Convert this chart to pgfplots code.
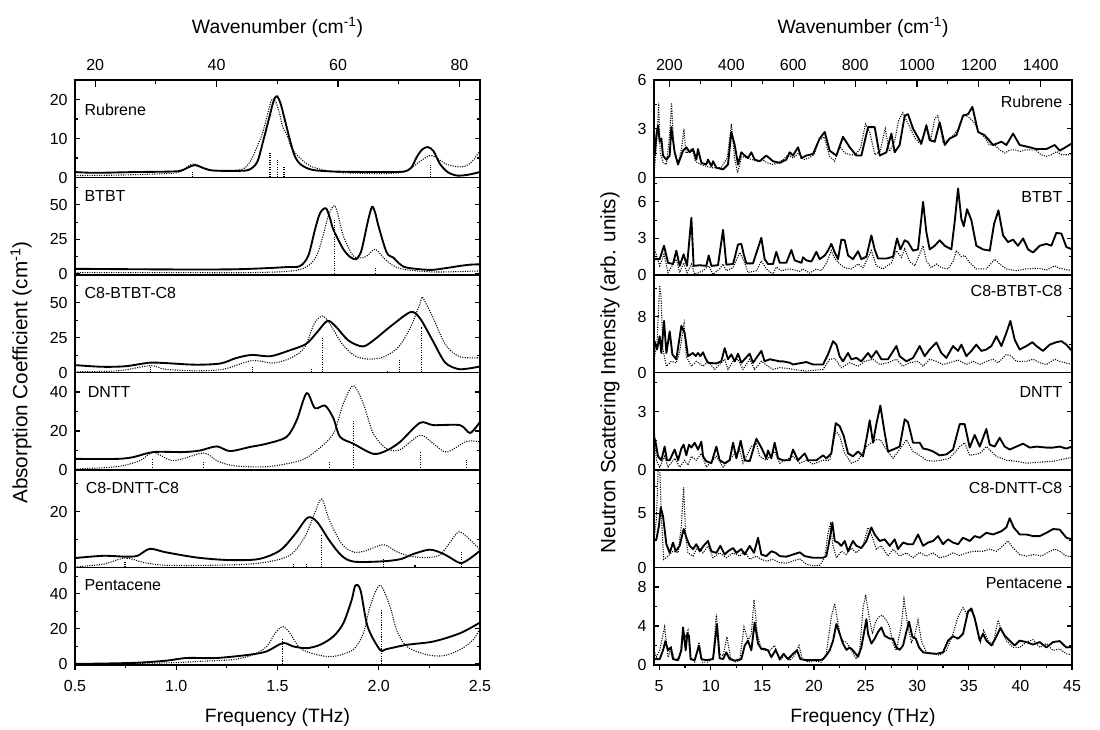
\documentclass[border=0pt]{standalone}
\usepackage{fontspec}
\setmainfont{Liberation Sans}
\usepackage{pgfplots}
\pgfplotsset{compat=1.18}

\tikzset{
  lname/.style={anchor=west, font=\fontsize{12}{13}\selectfont},
  rname/.style={anchor=east, font=\fontsize{12}{13}\selectfont},
}
\pgfplotsset{
  /pgf/number format/assume math mode=true,
  /pgf/number format/1000 sep={},
  base/.style={scale only axis, anchor=north west, height=73.125pt,
    tick align=inside, major tick length=4pt, minor tick length=2.5pt,
    axis line style={line width=0.9pt}, tick style={black, line width=0.8pt},
    xtick=\empty, ticklabel style={font=\fontsize{12}{13}\selectfont},
    yticklabel style={xshift=-2pt}},
  L/.style={base, width=303.75pt, xmin=0.5, xmax=2.5},
  R/.style={base, width=313.5pt, xmin=4.5, xmax=45},
  topax/.style={scale only axis, anchor=north west, height=73.125pt,
    ymin=0, ymax=1, hide y axis, axis x line*=top, tick align=inside,
    major tick length=5pt, minor tick length=3pt,
    axis line style={line width=0.9pt}, tick style={black, line width=0.8pt},
    ticklabel style={font=\fontsize{12}{13}\selectfont}, xticklabel style={yshift=3.5pt}},
  botax/.style={scale only axis, anchor=north west, height=73.125pt,
    ymin=0, ymax=1, hide y axis, axis x line*=bottom, tick align=outside,
    major tick length=4pt, minor tick length=2.5pt,
    axis line style={line width=0.9pt}, tick style={black, line width=0.8pt},
    ticklabel style={font=\fontsize{12}{13}\selectfont}, xticklabel style={yshift=-4pt}},
  sol/.style={black, line width=1.4pt, line join=round},
  dot/.style={black, densely dotted, line width=0.8pt},
  ssol/.style={sol, smooth, tension=0.5},
  sdot/.style={dot, smooth, tension=0.5},
  stk/.style={ycomb, black, densely dotted, line width=0.8pt},
}

\begin{document}
\begin{tikzpicture}
\useasboundingbox (0,0) rectangle (825pt,546.75pt);

% ---------------- left column: THz absorption ----------------
\begin{axis}[L, at={(56.25pt,486.75pt)}, ymin=0, ymax=25, ytick={0,10,20}, minor ytick={5,15}]
\addplot[sdot] coordinates {(0.5,0.5) (0.7,0.6) (0.9,0.9) (1.0,1.2) (1.04,2.2) (1.07,3.3) (1.09,3.5) (1.12,2.8) (1.16,1.9) (1.25,1.7) (1.33,2.2) (1.37,4.5) (1.40,8) (1.425,11.2) (1.45,16) (1.471,20) (1.49,19.5) (1.51,16.5) (1.525,13) (1.546,11) (1.57,7.5) (1.611,5) (1.66,3) (1.72,2.0) (1.8,1.3) (1.9,1.1) (2.0,1.0) (2.1,1.2) (2.15,2.0) (2.2,4.0) (2.25,5.6) (2.28,5.2) (2.33,3.5) (2.38,2.8) (2.42,2.8) (2.46,4.0) (2.5,6.9)};
\addplot[ssol] coordinates {(0.5,1.4) (0.6,1.2) (0.8,1.4) (0.95,1.5) (1.02,1.7) (1.06,2.6) (1.093,3.2) (1.13,2.5) (1.18,1.8) (1.3,1.7) (1.36,2.0) (1.40,4.0) (1.43,9.5) (1.46,15.5) (1.48,19.5) (1.496,20.9) (1.515,19) (1.54,14) (1.562,9.5) (1.585,5.5) (1.611,3.5) (1.65,2.3) (1.693,1.8) (1.8,1.5) (2.0,1.4) (2.12,1.5) (2.16,2.5) (2.187,5.2) (2.215,7.2) (2.242,7.8) (2.27,6.8) (2.302,3.5) (2.34,1.4) (2.385,0.5) (2.44,0.7) (2.5,1.4)};
\addplot[stk] coordinates {(1.079,1.8) (1.463,6.2) (1.499,4.6) (1.532,2.8) (2.256,3.1)};
\node[lname] at (rel axis cs:0.012,0.69) {Rubrene};
\end{axis}

\begin{axis}[L, at={(56.25pt,413.625pt)}, ymin=-1, ymax=70, ytick={0,25,50}, minor ytick={12.5,37.5,62.5}]
\addplot[sdot] coordinates {(0.5,0.7) (1.0,0.7) (1.4,0.8) (1.611,3) (1.693,13) (1.751,42) (1.781,49.5) (1.80,42) (1.825,27.6) (1.874,13) (1.924,11.7) (1.95,14) (1.981,17.8) (2.01,14) (2.039,9.3) (2.105,3.7) (2.27,1.2) (2.5,2.0)};
\addplot[ssol] coordinates {(0.5,3.5) (0.8,3.2) (1.1,3.0) (1.3,3.2) (1.447,4.0) (1.55,4.8) (1.611,5.5) (1.652,13) (1.685,32) (1.71,44) (1.739,47.6) (1.76,40) (1.776,32) (1.825,17.8) (1.86,12) (1.888,10.5) (1.91,15) (1.924,22.7) (1.949,39.8) (1.968,48.8) (1.985,43) (1.998,35) (2.039,15.4) (2.072,11.7) (2.10,7.5) (2.138,4.4) (2.253,2.7) (2.33,4) (2.401,5.6) (2.45,6.5) (2.5,6.8)};
\addplot[stk] coordinates {(1.781,39.8) (1.986,3.9)};
\node[lname] at (rel axis cs:0.012,0.815) {BTBT};
\end{axis}

\begin{axis}[L, at={(56.25pt,340.5pt)}, ymin=0, ymax=70, ytick={0,25,50}, minor ytick={12.5,37.5,62.5}]
\addplot[sdot] coordinates {(0.5,0.5) (0.711,1.2) (0.873,4.9) (0.942,2.4) (1.096,1.2) (1.234,2.4) (1.373,8.5) (1.481,6.8) (1.573,10.9) (1.635,18.2) (1.681,35) (1.722,40.5) (1.758,35) (1.819,20.6) (1.881,12.1) (1.943,9.7) (2.02,10.9) (2.097,18.2) (2.158,32.8) (2.204,49.8) (2.214,54.3) (2.235,49) (2.266,40) (2.327,20.6) (2.389,12) (2.45,10.5) (2.5,10.7)};
\addplot[ssol] coordinates {(0.5,5.3) (0.634,4.1) (0.75,4.5) (0.865,7.0) (0.942,6.8) (1.096,5.6) (1.219,6.5) (1.296,10.4) (1.373,12.6) (1.465,11.7) (1.558,15.8) (1.642,20.6) (1.696,29) (1.747,37.1) (1.789,32.8) (1.85,23) (1.92,18.7) (1.973,23) (2.066,34) (2.158,43.4) (2.204,38.8) (2.266,23) (2.327,7.3) (2.389,2.6) (2.44,2.8) (2.5,4.3)};
\addplot[stk] coordinates {(0.873,4.9) (1.376,4.4) (1.67,2.9) (1.722,25) (2.043,1.2) (2.104,9.2) (2.212,32.8)};
\node[lname] at (rel axis cs:0.012,0.815) {C8-BTBT-C8};
\end{axis}

\begin{axis}[L, at={(56.25pt,267.375pt)}, ymin=0, ymax=50, ytick={0,20,40}, minor ytick={10,30}]
\addplot[sdot] coordinates {(0.5,0.5) (0.706,1.7) (0.821,4.8) (0.887,9) (0.986,4.8) (1.134,8.7) (1.2,4.8) (1.282,2.2) (1.447,1.7) (1.611,4.8) (1.693,10) (1.776,18.7) (1.825,34) (1.874,43.2) (1.924,34) (1.973,18.7) (2.039,10.9) (2.105,10.4) (2.204,17.8) (2.27,13.5) (2.335,9.2) (2.434,14.7) (2.5,14.4)};
\addplot[ssol] coordinates {(0.5,5.7) (0.706,5.7) (0.788,6.6) (0.887,9.2) (1.035,9.2) (1.117,10) (1.2,12.1) (1.265,9.7) (1.364,11.8) (1.447,13.5) (1.545,17) (1.595,25.6) (1.644,39.4) (1.685,31.7) (1.735,33) (1.776,26.5) (1.809,17) (1.874,13.5) (1.973,8.3) (2.039,10) (2.105,14.4) (2.204,24.2) (2.27,23) (2.401,23) (2.451,19) (2.5,24.7)};
\addplot[stk] coordinates {(0.882,5.7) (1.134,4.8) (1.756,4.8) (1.874,25.6) (2.207,9.2) (2.434,5.2)};
\node[lname] at (rel axis cs:0.02,0.80) {DNTT};
\end{axis}

\begin{axis}[L, at={(56.25pt,194.25pt)}, ymin=0, ymax=35, ytick={0,20}, minor ytick={10,30}]
\addplot[sdot] coordinates {(0.5,0.2) (0.64,1.2) (0.747,3.4) (0.839,1.8) (0.946,0.8) (1.175,0.8) (1.404,1.5) (1.557,4.2) (1.634,10.9) (1.68,18.8) (1.718,24.6) (1.756,17) (1.817,8.5) (1.878,5.5) (1.94,6.1) (2.024,8.2) (2.093,5.5) (2.169,3.9) (2.245,3.6) (2.307,4.8) (2.383,12.1) (2.41,12.5) (2.45,10) (2.5,6.5)};
\addplot[ssol] coordinates {(0.5,3.4) (0.64,4.2) (0.747,3.9) (0.808,4.2) (0.869,6.7) (0.946,5.5) (1.099,3.6) (1.252,2.7) (1.404,3) (1.512,6.1) (1.588,12.1) (1.649,17.9) (1.695,16.4) (1.756,9.7) (1.817,4.2) (1.878,2.1) (2.016,2.2) (2.108,3) (2.169,4.8) (2.253,6.4) (2.322,4.8) (2.383,2.2) (2.41,1.6) (2.45,3.2) (2.5,6.0)};
\addplot[stk] coordinates {(0.747,2.1) (1.578,1.5) (1.644,1.5) (1.718,11.5) (2.024,3) (2.179,1.0) (2.409,5.8)};
\node[lname] at (rel axis cs:0.015,0.815) {C8-DNTT-C8};
\end{axis}

\begin{axis}[L, at={(56.25pt,121.125pt)}, ymin=-0.6, ymax=55, ytick={0,20,40}, minor ytick={10,30,50}]
\addplot[sdot] coordinates {(0.5,0) (0.953,0.6) (1.117,1.5) (1.282,2.5) (1.381,5.3) (1.447,10) (1.488,17.5) (1.526,21.3) (1.562,17.5) (1.611,9) (1.693,5.3) (1.776,4.3) (1.874,8.1) (1.924,17.5) (1.957,32.6) (2.006,44.9) (2.056,32.6) (2.088,19.4) (2.138,10) (2.237,5.3) (2.319,4.7) (2.401,8.1) (2.467,13.8) (2.5,20.4)};
\addplot[ssol] coordinates {(0.5,0) (0.788,0.6) (0.953,1.9) (1.051,3.4) (1.2,3.4) (1.364,5.3) (1.447,7.2) (1.526,11.9) (1.578,10) (1.644,9) (1.71,10.9) (1.776,15.7) (1.825,23.2) (1.866,36.4) (1.885,44.9) (1.91,42) (1.945,21.3) (2.006,8.1) (2.039,8.5) (2.138,10.9) (2.27,12.8) (2.401,17.5) (2.5,23.6)};
\addplot[stk] coordinates {(1.526,14.7) (2.014,30.8)};
\node[lname] at (rel axis cs:0.012,0.815) {Pentacene};
\end{axis}

\begin{axis}[topax, width=303.75pt, at={(56.25pt,486.75pt)}, xmin=16.678, xmax=83.39, xtick={20,40,60,80}, minor xtick={30,50,70}]
\end{axis}
\begin{axis}[botax, width=303.75pt, at={(56.25pt,121.125pt)}, xmin=0.5, xmax=2.5, xtick={0.5,1.0,1.5,2.0,2.5}, minor xtick={0.75,1.25,1.75,2.25},
  xticklabel style={/pgf/number format/.cd, fixed, fixed zerofill, precision=1}]
\end{axis}

% ---------------- right column: neutron scattering ----------------
\begin{axis}[R, at={(490.5pt,486.75pt)}, ymin=0, ymax=6, ytick={0,3,6}, minor ytick={1.5,4.5}]
\addplot[dot] coordinates {(4.56,0.6) (4.8,2.5) (4.95,4.6) (5.1,1.5) (5.4,0.9) (5.7,0.8) (6.0,2.5) (6.2,4.6) (6.4,2) (6.6,1.2) (6.9,1) (7.2,1.9) (7.4,3.0) (7.6,1.5) (7.9,1.6) (8.2,1.8) (8.5,1) (9.0,0.8) (9.5,0.7) (10.0,0.6) (10.6,0.6) (11.0,0.6) (11.6,1.2) (12.0,3.3) (12.3,1.2) (12.6,0.3) (13.0,1.3) (13.5,1.2) (14.0,1.1) (14.5,1) (15,1.1) (15.5,0.9) (16,0.8) (16.5,0.9) (17,1.1) (17.5,1.4) (18,1.2) (18.5,1.5) (19,1.1) (19.5,1.2) (20,1.4) (20.5,2.3) (21,2.5) (21.5,1.3) (22,1) (22.5,1.9) (23,1.5) (23.5,1.4) (24,1.4) (24.5,1.8) (25.0,3.3) (25.4,2.8) (25.9,1.4) (26.4,1.6) (26.9,3.0) (27.3,1.6) (27.8,2.2) (28.2,3.5) (28.6,4.0) (29.2,3.2) (29.8,2.4) (30.4,2.0) (30.9,3.2) (31.3,2.3) (31.7,3.6) (32,3.8) (32.5,2.2) (33,2.3) (33.5,2.6) (34,3.0) (34.5,3.9) (35,3.7) (35.5,3.4) (36,2.8) (36.5,2.5) (37,2) (37.5,2) (38,1.7) (38.5,1.5) (39,1.7) (39.5,1.7) (40,1.6) (40.5,1.7) (41,1.7) (41.5,1.7) (42,1.4) (42.5,1.3) (43,1.4) (43.5,1.6) (44,1.4) (44.5,1.4) (45,1.4)};
\addplot[sol] coordinates {(4.56,1.35) (4.73,2.6) (4.89,3.2) (5.05,2.2) (5.21,2.4) (5.37,1.35) (5.70,1.1) (6.02,1.35) (6.18,3.1) (6.50,1.55) (6.83,0.8) (7.31,1.65) (7.63,1.86) (7.96,1.55) (8.28,1.75) (8.60,1.1) (8.76,1.75) (9.09,0.9) (9.57,0.8) (9.73,1.1) (10.06,0.7) (10.22,1.0) (10.54,0.6) (11.19,0.5) (11.67,0.8) (11.99,2.8) (12.32,2.0) (12.64,0.8) (12.96,1.55) (13.29,1.35) (13.61,1.2) (13.93,1.55) (14.25,1.1) (14.74,1.0) (15.38,1.35) (16.03,1.0) (16.68,0.9) (17.32,1.1) (17.65,1.55) (17.97,1.35) (18.45,1.86) (18.78,1.2) (19.26,1.35) (19.91,1.45) (20.55,2.4) (21.04,2.8) (21.52,1.65) (22.17,1.35) (22.81,2.5) (23.46,1.86) (24.11,1.35) (24.59,1.35) (25.24,3.1) (25.56,3.1) (25.88,3.1) (26.37,1.35) (27.01,1.55) (27.50,2.7) (27.82,1.55) (28.30,2.0) (28.79,3.8) (29.11,3.9) (29.60,3.0) (30.40,2.1) (30.89,3.2) (31.21,2.3) (31.70,2.2) (32.18,3.4) (32.67,2.0) (33.15,2.4) (33.80,2.6) (34.44,3.8) (34.93,3.9) (35.35,4.35) (35.90,2.8) (36.54,2.6) (37.35,2.0) (38.16,2.2) (38.64,2.0) (39.29,2.7) (39.93,2.0) (40.90,1.86) (41.55,1.75) (42.52,1.75) (43.32,2.0) (43.81,1.65) (45.0,2.1)};
\node[rname] at (rel axis cs:0.988,0.775) {Rubrene};
\end{axis}

\begin{axis}[R, at={(490.5pt,413.625pt)}, ymin=0, ymax=8, ytick={0,3,6}, minor ytick={1.5,4.5,7.5}]
\addplot[dot] coordinates {(4.56,2.1) (5.05,0.75) (5.47,1.7) (5.86,0.2) (6.66,1.3) (6.99,0.2) (7.37,1.0) (7.70,0.2) (8.12,0.9) (8.44,0.05) (9.25,0.35) (9.80,0.75) (10.22,0.05) (10.86,0.5) (11.19,0.9) (11.51,0.35) (12.16,0.6) (12.80,1.85) (13.29,1.0) (13.61,0.2) (14.42,0.35) (14.90,1.15) (15.38,0.5) (16.03,0.05) (16.35,0.65) (16.84,0.35) (17.65,0.5) (18.62,0.3) (18.94,0.5) (19.58,0.15) (20.23,0.5) (20.71,0.35) (21.20,0.95) (21.68,2.0) (22.01,1.35) (22.49,0.9) (22.98,0.6) (23.62,0.5) (24.27,0.9) (24.75,0.6) (25.56,2.0) (26.04,0.75) (26.69,0.5) (27.50,1.0) (27.98,2.0) (28.47,1.45) (28.79,2.15) (29.27,1.1) (29.76,0.75) (30.57,2.4) (30.89,1.15) (31.37,0.6) (31.86,0.9) (32.34,0.6) (32.99,0.5) (33.47,1.1) (33.80,2.0) (34.28,1.5) (34.60,1.6) (35.09,1.0) (35.73,0.5) (36.70,0.5) (37.51,1.3) (37.99,0.9) (38.64,0.5) (39.61,0.35) (40.58,0.5) (41.87,0.55) (42.52,0.4) (43.32,0.75) (43.81,0.55) (45.00,0.35)};
\addplot[sol] coordinates {(4.56,1.3) (5.05,1.3) (5.47,2.4) (5.86,1.0) (6.34,0.9) (6.66,2.0) (6.99,0.75) (7.37,1.7) (7.70,0.75) (8.12,4.7) (8.34,0.75) (8.93,0.8) (9.57,0.75) (9.80,1.6) (10.06,0.75) (10.70,0.8) (11.19,3.7) (11.51,0.85) (12.16,0.9) (12.64,2.5) (12.96,2.55) (13.19,1.7) (13.45,0.95) (14.09,0.95) (14.90,3.05) (15.22,1.3) (15.55,0.9) (16.03,0.9) (16.35,1.9) (16.68,1.0) (17.32,1.0) (17.81,2.05) (18.13,1.2) (18.78,1.0) (18.94,1.45) (19.26,1.2) (19.75,1.1) (20.23,1.9) (20.55,1.3) (21.04,1.6) (21.36,2.0) (21.68,2.55) (22.01,1.85) (22.33,1.3) (22.65,2.9) (22.98,2.85) (23.30,1.6) (23.78,1.3) (24.27,1.95) (24.59,1.3) (25.08,1.5) (25.56,3.25) (25.88,2.1) (26.21,1.35) (27.01,1.35) (27.66,1.5) (28.05,3.0) (28.37,2.1) (28.79,2.85) (29.11,2.7) (29.60,2.0) (30.08,2.1) (30.57,6.0) (30.89,3.5) (31.21,2.1) (31.70,2.4) (32.18,2.85) (32.67,2.4) (33.31,2.1) (33.63,4.35) (33.96,7.1) (34.28,4.6) (34.51,4.0) (34.83,5.4) (35.25,4.5) (35.73,2.4) (36.38,2.1) (37.03,2.0) (37.45,4.2) (37.87,5.3) (38.32,3.25) (38.80,2.7) (39.29,2.9) (39.77,2.4) (40.26,3.0) (40.74,2.1) (41.22,1.85) (41.87,2.4) (42.52,2.55) (43.00,2.4) (43.48,3.45) (43.97,3.4) (44.45,2.3) (45.00,2.1)};
\node[rname] at (rel axis cs:0.988,0.795) {BTBT};
\end{axis}

\begin{axis}[R, at={(490.5pt,340.5pt)}, ymin=0, ymax=14, ytick={0,8}, minor ytick={4,12}]
\addplot[dot] coordinates {(4.56,2.3) (4.79,4.2) (5.05,12.5) (5.18,11.0) (5.37,3.3) (5.70,0.9) (6.18,1.6) (6.66,1.4) (6.99,3.0) (7.41,7.0) (7.63,2.3) (8.12,0.9) (8.60,1.6) (9.25,0.9) (9.73,1.6) (10.38,0.45) (11.02,1.4) (11.35,1.9) (11.67,0.45) (12.16,1.6) (12.64,1.9) (13.12,0.45) (13.77,1.9) (14.25,0.45) (14.90,1.6) (15.55,0.9) (16.03,0.45) (16.68,0.7) (17.65,0.55) (17.97,0.45) (19.26,0.2) (20.88,0.45) (21.52,1.9) (22.01,2.0) (22.65,0.7) (23.46,1.4) (24.27,0.9) (24.91,1.6) (25.72,1.9) (26.37,1.15) (27.17,1.4) (27.98,1.9) (28.63,0.9) (29.27,1.4) (30.08,1.6) (30.57,0.9) (31.21,1.9) (31.86,1.6) (32.50,1.15) (33.15,1.4) (33.96,1.8) (34.76,1.15) (35.41,1.6) (36.06,1.15) (36.70,1.6) (37.35,1.9) (37.83,1.4) (38.64,2.6) (39.13,2.35) (39.61,1.6) (40.58,1.6) (41.22,1.9) (41.87,1.4) (42.52,1.15) (43.32,1.9) (43.81,1.6) (45.00,1.15)};
\addplot[sol] coordinates {(4.56,4.5) (4.79,3.3) (5.05,5.2) (5.21,2.8) (5.47,7.4) (5.70,2.8) (6.02,5.9) (6.28,2.6) (6.66,1.9) (7.15,6.7) (7.47,5.7) (7.79,2.35) (8.28,2.8) (8.54,2.35) (8.76,2.8) (8.99,2.35) (9.25,2.9) (9.47,2.1) (9.73,1.4) (10.54,1.3) (11.02,1.6) (11.35,3.5) (11.67,1.9) (11.99,2.6) (12.32,1.6) (12.64,2.7) (12.96,1.4) (13.77,2.7) (14.09,1.4) (14.90,3.1) (15.22,1.6) (15.71,1.9) (16.68,1.6) (17.00,1.6) (17.65,1.4) (17.97,1.15) (19.26,1.5) (19.91,1.15) (20.88,1.15) (21.36,2.6) (21.85,4.5) (22.17,4.0) (22.49,2.3) (22.81,1.6) (23.30,2.8) (23.62,1.9) (24.11,2.1) (24.59,1.6) (25.24,2.8) (25.56,2.1) (26.04,3.1) (26.53,1.9) (27.17,1.9) (27.98,3.8) (28.30,2.35) (28.95,1.6) (29.60,2.1) (30.24,3.8) (30.73,2.35) (31.21,3.3) (31.86,4.3) (32.34,2.8) (32.83,2.1) (33.47,3.8) (33.96,3.1) (34.28,4.0) (34.76,2.35) (35.25,3.1) (35.73,4.0) (36.22,3.1) (36.70,3.3) (37.19,3.8) (37.67,5.2) (38.16,3.8) (38.64,5.7) (39.03,7.4) (39.45,4.7) (39.93,3.3) (40.58,3.8) (41.16,4.35) (41.55,3.8) (42.19,3.1) (42.84,4.0) (43.48,4.35) (43.97,4.5) (44.45,4.0) (45.00,3.1)};
\node[rname] at (rel axis cs:0.988,0.835) {C8-BTBT-C8};
\end{axis}

\begin{axis}[R, at={(490.5pt,267.375pt)}, ymin=0, ymax=5, ytick={0,3}, minor ytick={1.5,4.5}]
\addplot[dot] coordinates {(4.50,2.25) (4.73,0.5) (5.05,0.15) (5.53,0.7) (5.86,0.15) (6.50,0.6) (6.99,0.15) (7.47,0.5) (7.79,0.25) (8.12,0.7) (8.60,0.5) (9.09,0.85) (9.57,0.15) (10.54,0.7) (11.19,0.15) (12.16,0.75) (12.80,1.05) (13.12,0.35) (13.93,1.2) (14.42,1.4) (14.74,0.7) (15.38,0.5) (16.19,0.95) (16.68,0.35) (17.97,0.7) (18.62,0.35) (19.26,0.5) (19.91,0.3) (20.88,0.5) (21.52,0.5) (22.11,2.0) (22.49,1.75) (22.98,0.85) (23.62,0.35) (24.27,0.5) (25.08,1.2) (25.56,1.4) (26.04,1.55) (26.43,1.55) (27.01,1.05) (27.66,0.6) (28.30,1.05) (28.95,1.55) (29.60,0.95) (30.24,0.75) (30.89,0.5) (31.54,0.45) (32.34,0.5) (33.15,0.6) (34.12,1.2) (34.60,1.4) (35.09,0.75) (36.06,0.85) (36.70,1.2) (37.67,0.7) (38.64,0.5) (39.61,0.45) (40.58,0.35) (41.87,0.4) (43.16,0.45) (45.00,0.65)};
\addplot[sol] coordinates {(4.50,1.7) (4.66,1.4) (4.89,0.7) (5.21,0.5) (5.53,1.2) (5.76,0.5) (6.02,0.5) (6.50,1.05) (6.83,0.5) (7.15,1.1) (7.37,1.3) (7.63,0.75) (7.89,1.3) (8.12,1.15) (8.44,1.4) (8.76,1.05) (9.09,1.45) (9.25,0.7) (9.57,0.45) (10.06,0.35) (10.54,1.2) (10.86,0.5) (11.35,0.35) (11.83,0.5) (12.16,1.4) (12.48,0.6) (12.90,1.5) (13.29,0.5) (13.77,0.45) (14.42,1.6) (14.90,1.15) (15.38,0.6) (15.55,1.0) (15.87,0.6) (16.19,1.4) (16.52,0.6) (17.00,0.5) (17.65,0.5) (17.97,1.05) (18.45,0.5) (19.10,0.85) (19.42,0.5) (20.23,0.5) (20.88,0.75) (21.20,0.6) (21.68,0.85) (22.11,2.4) (22.49,2.25) (22.88,1.75) (23.30,0.85) (23.78,0.7) (24.27,0.95) (24.75,0.7) (25.14,1.75) (25.40,2.55) (25.72,1.4) (26.04,2.35) (26.43,3.3) (26.85,1.9) (27.17,0.95) (27.66,1.05) (28.30,1.2) (28.79,2.6) (29.11,2.45) (29.60,1.4) (30.24,1.4) (30.57,1.1) (31.05,1.05) (31.54,0.95) (32.18,0.75) (32.83,0.8) (33.47,1.05) (34.12,2.35) (34.60,2.35) (35.09,1.15) (35.57,1.8) (36.06,1.2) (36.70,2.1) (37.03,1.3) (37.51,1.2) (37.99,1.65) (38.48,1.2) (38.96,1.05) (39.61,1.2) (40.26,1.35) (40.90,1.15) (41.55,1.2) (42.52,1.15) (43.16,1.15) (43.81,1.2) (44.45,1.1) (45.00,1.2)};
\node[rname] at (rel axis cs:0.988,0.795) {DNTT};
\end{axis}

\begin{axis}[R, at={(490.5pt,194.25pt)}, ymin=0, ymax=9, ytick={0,5}, minor ytick={2.5,7.5}]
\addplot[dot] coordinates {(4.50,2.6) (4.73,4.45) (4.92,9.5) (5.05,9.5) (5.21,4.75) (5.44,0.75) (5.86,1.05) (6.34,1.5) (6.83,1.35) (7.15,3.85) (7.37,7.4) (7.57,2.9) (7.79,1.35) (8.28,1.05) (8.76,2.0) (9.25,1.35) (9.73,2.0) (10.22,0.9) (10.86,1.35) (11.51,0.9) (12.16,1.35) (12.80,1.05) (13.29,1.5) (13.77,0.75) (14.42,1.05) (14.90,0.75) (15.38,0.6) (16.03,0.75) (16.68,0.45) (17.32,0.4) (17.97,0.6) (18.62,0.8) (19.26,0.3) (19.91,0.15) (20.55,0.2) (21.04,0.9) (21.36,3.2) (21.59,4.0) (21.85,2.0) (22.17,0.9) (22.65,1.5) (23.14,1.2) (23.62,1.8) (24.11,1.35) (24.75,2.0) (25.24,3.7) (25.56,3.05) (26.04,1.7) (26.53,2.0) (27.17,1.05) (27.66,1.7) (28.30,1.05) (28.95,1.35) (29.60,0.9) (30.24,1.4) (30.89,1.05) (31.54,1.35) (32.18,0.9) (32.83,1.05) (33.47,1.35) (34.12,1.1) (34.93,1.4) (35.57,1.5) (36.38,1.5) (37.03,1.7) (37.67,1.5) (38.32,2.0) (38.80,2.45) (39.29,1.8) (39.93,1.2) (40.58,1.05) (41.38,1.2) (42.03,1.05) (42.68,1.4) (43.32,1.7) (43.81,1.5) (44.45,1.05) (45.00,1.0)};
\addplot[sol] coordinates {(4.50,2.45) (4.73,2.6) (4.98,3.85) (5.15,5.55) (5.37,4.75) (5.70,2.15) (6.02,1.35) (6.34,2.3) (6.60,1.5) (6.99,2.0) (7.37,3.55) (7.70,2.6) (7.96,2.0) (8.28,1.7) (8.60,2.15) (8.93,1.5) (9.31,2.0) (9.73,2.45) (10.06,1.5) (10.54,1.35) (10.93,2.0) (11.35,1.2) (11.67,1.5) (12.16,1.8) (12.48,1.35) (12.96,1.7) (13.29,1.2) (13.77,2.0) (14.19,1.35) (14.58,2.75) (14.90,1.2) (15.38,1.05) (15.87,1.5) (16.29,1.35) (16.68,1.05) (17.32,1.0) (18.62,1.4) (19.10,1.05) (19.91,0.9) (20.88,0.9) (21.20,1.05) (21.52,2.6) (21.78,4.15) (22.01,2.45) (22.33,2.3) (22.65,2.0) (22.98,2.45) (23.30,1.5) (23.78,2.45) (24.11,2.0) (24.59,1.8) (25.08,2.45) (25.56,3.7) (25.88,3.05) (26.37,2.45) (26.85,2.6) (27.34,2.0) (27.82,2.6) (28.14,1.7) (28.63,2.3) (29.11,2.15) (29.60,2.15) (30.08,3.05) (30.57,2.0) (31.05,2.3) (31.54,2.45) (32.02,2.9) (32.50,2.15) (32.99,2.6) (33.47,2.3) (33.96,2.15) (34.44,2.75) (35.09,2.45) (35.57,2.9) (36.06,2.75) (36.70,3.2) (37.35,3.05) (38.16,3.35) (38.64,3.7) (38.96,4.55) (39.35,3.7) (39.93,3.05) (40.58,3.05) (41.22,2.9) (41.87,2.9) (42.52,3.2) (43.16,3.55) (43.81,3.5) (44.45,2.75) (45.00,2.6)};
\node[rname] at (rel axis cs:0.988,0.815) {C8-DNTT-C8};
\end{axis}

\begin{axis}[R, at={(490.5pt,121.125pt)}, ymin=0, ymax=10, ytick={0,4,8}, minor ytick={2,6}]
\addplot[dot] coordinates {(4.50,1.5) (4.73,0.8) (5.05,1.5) (5.53,3.9) (5.86,0.8) (6.18,1.8) (6.50,0.45) (6.99,0.8) (7.31,3.55) (7.57,2.9) (7.79,3.55) (8.02,0.8) (8.44,0.3) (8.86,2.35) (9.18,0.3) (9.73,0.3) (10.22,0.8) (10.54,5.2) (10.86,1.15) (11.19,0.95) (11.57,2.9) (11.90,0.8) (12.32,0.3) (12.80,0.45) (13.22,3.9) (13.61,2.5) (13.93,3.2) (14.19,6.7) (14.51,3.2) (14.90,1.65) (15.22,1.5) (15.71,1.5) (16.19,2.0) (16.68,0.45) (17.16,1.0) (17.65,0.45) (18.13,1.0) (18.55,2.0) (18.87,0.6) (19.42,0.3) (19.91,0.45) (20.71,0.3) (21.20,1.15) (21.68,4.95) (22.01,6.3) (22.33,4.25) (22.65,2.5) (23.14,2.35) (23.62,1.5) (24.11,0.6) (24.43,1.5) (24.75,5.8) (25.01,7.2) (25.33,5.0) (25.66,3.2) (25.98,4.45) (26.30,4.95) (26.63,5.1) (27.01,4.6) (27.34,3.9) (27.66,2.2) (27.98,1.5) (28.47,4.1) (28.72,6.75) (29.05,4.25) (29.44,2.35) (29.76,3.0) (30.08,4.6) (30.40,2.5) (30.89,1.3) (31.54,1.15) (32.18,1.0) (32.83,1.5) (33.47,3.2) (33.96,4.95) (34.44,5.9) (34.76,5.3) (35.25,5.6) (35.73,4.25) (36.12,2.35) (36.44,3.55) (36.86,2.5) (37.35,2.0) (37.83,4.6) (38.16,3.55) (38.64,2.5) (39.29,1.8) (39.93,1.8) (40.58,2.35) (41.22,2.6) (41.87,1.8) (42.52,2.2) (43.16,1.5) (43.81,1.65) (44.45,1.15) (45.00,1.05)};
\addplot[sol] coordinates {(4.50,0.6) (5.05,0.6) (5.37,1.5) (5.60,2.45) (5.86,1.5) (6.12,1.8) (6.34,0.6) (6.83,0.5) (7.15,1.5) (7.31,3.85) (7.57,1.5) (7.73,3.2) (7.89,3.0) (8.05,0.6) (8.44,0.5) (8.86,2.0) (9.09,0.6) (9.57,0.5) (10.22,0.6) (10.60,4.2) (10.86,0.7) (11.19,0.6) (11.51,1.3) (11.83,0.6) (12.32,0.45) (12.96,0.6) (13.29,2.0) (13.61,2.5) (13.93,1.5) (14.25,4.35) (14.58,2.2) (14.90,1.65) (15.22,1.65) (15.55,1.5) (15.87,0.8) (16.29,1.55) (16.68,0.6) (17.06,1.15) (17.48,0.6) (17.97,1.15) (18.36,1.5) (18.68,0.6) (19.26,0.5) (20.55,0.5) (20.88,0.6) (21.20,1.0) (21.52,1.5) (21.85,2.5) (22.17,4.2) (22.49,3.2) (22.81,2.2) (23.14,1.55) (23.46,1.8) (23.78,1.5) (24.27,0.85) (24.59,1.8) (25.08,4.7) (25.24,3.2) (25.56,2.2) (25.88,2.7) (26.21,3.4) (26.53,3.85) (26.85,3.0) (27.34,2.7) (27.66,2.7) (27.98,1.8) (28.30,1.55) (28.63,2.0) (28.95,3.4) (29.21,4.45) (29.53,2.9) (29.86,2.7) (30.18,1.8) (30.57,1.3) (31.21,1.2) (31.86,1.15) (32.50,1.3) (32.99,2.5) (33.47,2.95) (33.96,2.7) (34.44,3.2) (34.93,5.5) (35.25,5.8) (35.57,4.8) (36.06,2.5) (36.38,3.2) (36.70,2.5) (37.19,2.0) (37.67,2.9) (38.06,3.8) (38.48,3.0) (38.96,2.5) (39.45,2.0) (39.93,2.5) (40.58,2.35) (41.22,2.1) (41.87,2.35) (42.52,1.8) (43.16,2.35) (43.81,2.45) (44.45,1.8) (45.00,1.85)};
\node[rname] at (rel axis cs:0.988,0.845) {Pentacene};
\end{axis}

\begin{axis}[topax, width=313.5pt, at={(490.5pt,486.75pt)}, xmin=150.10, xmax=1501.02, xtick={200,400,...,1400}, minor xtick={300,500,...,1500}]
\end{axis}
\begin{axis}[botax, width=313.5pt, at={(490.5pt,121.125pt)}, xmin=4.5, xmax=45, xtick={5,10,...,45}, minor xtick={7.5,12.5,...,42.5}]
\end{axis}

% ---------------- titles ----------------
\node[font=\fontsize{14.5}{16}\selectfont] at (208.1pt,526.5pt) {Wavenumber (cm\textsuperscript{-1})};
\node[font=\fontsize{14.5}{16}\selectfont] at (647.25pt,526.5pt) {Wavenumber (cm\textsuperscript{-1})};
\node[font=\fontsize{14.5}{16}\selectfont] at (208.1pt,8.5pt) {Frequency (THz)};
\node[font=\fontsize{14.5}{16}\selectfont] at (647.25pt,8.5pt) {Frequency (THz)};
\node[font=\fontsize{15.5}{17}\selectfont, rotate=90] at (15.75pt,267.4pt) {Absorption Coefficient (cm\textsuperscript{-1})};
\node[font=\fontsize{15.5}{17}\selectfont, rotate=90] at (457.5pt,267.4pt) {Neutron Scattering Intensity (arb. units)};
\end{tikzpicture}
\end{document}
